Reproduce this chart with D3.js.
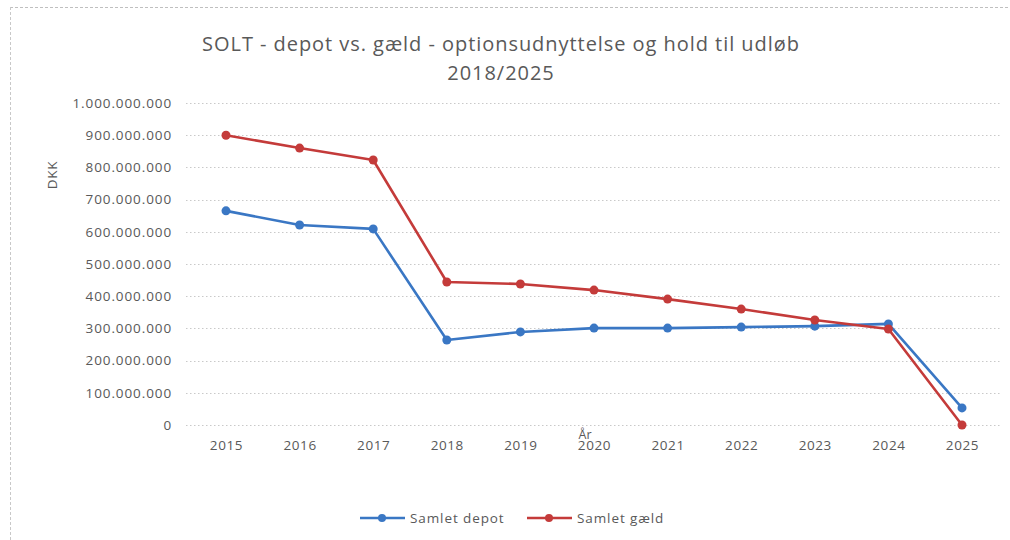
<!DOCTYPE html>
<html><head><meta charset="utf-8">
<script src="https://cdn.jsdelivr.net/npm/d3@7"></script>
<style>
html,body{margin:0;padding:0;background:#fff;}
svg{display:block;font-family:"Open Sans","Liberation Sans",sans-serif;}
</style></head><body>
<svg id="c" width="1010" height="540"></svg>
<script>
const years = ["2015","2016","2017","2018","2019","2020","2021","2022","2023","2024","2025"];
const depot = [665e6, 621e6, 609e6, 264e6, 289e6, 301e6, 301e6, 304e6, 307e6, 314e6, 53e6];
const gaeld = [900e6, 860e6, 823e6, 444e6, 438e6, 419e6, 391e6, 360e6, 326e6, 298e6, 0];
const yTicks = [0,1e8,2e8,3e8,4e8,5e8,6e8,7e8,8e8,9e8,1e9];
const seriesNames = ["Samlet depot","Samlet gæld"];
const colors = ["#3a77c4","#c43b3a"];

const svg = d3.select("#c");
// page frame
svg.append("line").attr("x1",10).attr("x2",1010).attr("y1",7.5).attr("y2",7.5)
  .attr("stroke","#bfbfbf").attr("stroke-dasharray","3,2");
svg.append("line").attr("x1",10.5).attr("x2",10.5).attr("y1",7).attr("y2",540)
  .attr("stroke","#c8c8c8").attr("stroke-dasharray","3,2");

const x = d3.scalePoint().domain(years).range([226,962]);
const y = d3.scaleLinear().domain([0,1e9]).range([425,103]);

// title
const t = svg.append("text").attr("text-anchor","middle").attr("fill","#595959")
  .attr("font-size",20).attr("letter-spacing",0.95);
t.append("tspan").attr("x",501).attr("y",51).text("SOLT - depot vs. gæld - optionsudnyttelse og hold til udløb");
t.append("tspan").attr("x",501).attr("y",80).text("2018/2025");

// grid
const fmt = v => d3.format(",")(v).replace(/,/g,".");
svg.append("g").selectAll("line").data(yTicks).join("line")
  .attr("x1",186).attr("x2",1000).attr("y1",d=>Math.round(y(d))+0.5).attr("y2",d=>Math.round(y(d))+0.5)
  .attr("stroke","#c9c9c9").attr("stroke-width",1).attr("stroke-dasharray","1.5,2.5");

// y axis labels
const ya = svg.append("g").attr("transform","translate(172,0)")
  .call(d3.axisLeft(y).tickValues(yTicks).tickFormat(fmt).tickSize(0).tickPadding(0));
ya.select(".domain").remove();
ya.selectAll("text").attr("fill","#595959").attr("font-size",13.5).attr("letter-spacing",0.9)
  .attr("font-family","'Open Sans','Liberation Sans',sans-serif");

// x axis labels
const xa = svg.append("g").attr("transform","translate(0,440)")
  .call(d3.axisBottom(x).tickSize(0).tickPadding(0));
xa.select(".domain").remove();
xa.selectAll("text").attr("fill","#595959").attr("font-size",13.5).attr("letter-spacing",0.6).attr("dy","0.71em")
  .attr("font-family","'Open Sans','Liberation Sans',sans-serif");

// axis titles
svg.append("text").attr("transform","translate(57,175) rotate(-90)").attr("text-anchor","middle")
  .attr("fill","#595959").attr("font-size",13.5).attr("letter-spacing",0.8).text("DKK");
svg.append("text").attr("x",585).attr("y",439).attr("text-anchor","middle")
  .attr("fill","#595959").attr("font-size",12.5).text("År");

// series
const data = [depot,gaeld];
const line = d3.line().x((d,i)=>x(years[i])).y(d=>y(d));
data.forEach((s,k)=>{
  svg.append("path").datum(s).attr("d",line).attr("fill","none")
    .attr("stroke",colors[k]).attr("stroke-width",2.6).attr("stroke-linejoin","round");
  svg.append("g").selectAll("circle").data(s).join("circle")
    .attr("cx",(d,i)=>x(years[i])).attr("cy",d=>y(d)).attr("r",4.5).attr("fill",colors[k]);
});

// legend
const lx = [360,527];
seriesNames.forEach((n,k)=>{
  const g = svg.append("g").attr("transform",`translate(${lx[k]},518)`);
  g.append("line").attr("x1",0).attr("x2",45).attr("stroke",colors[k]).attr("stroke-width",2.6);
  g.append("circle").attr("cx",22).attr("r",4).attr("fill",colors[k]);
  g.append("text").attr("x",50).attr("dy","0.35em").attr("fill","#595959").attr("font-size",13.5)
    .attr("letter-spacing",0.9).text(n);
});
</script></body></html>
